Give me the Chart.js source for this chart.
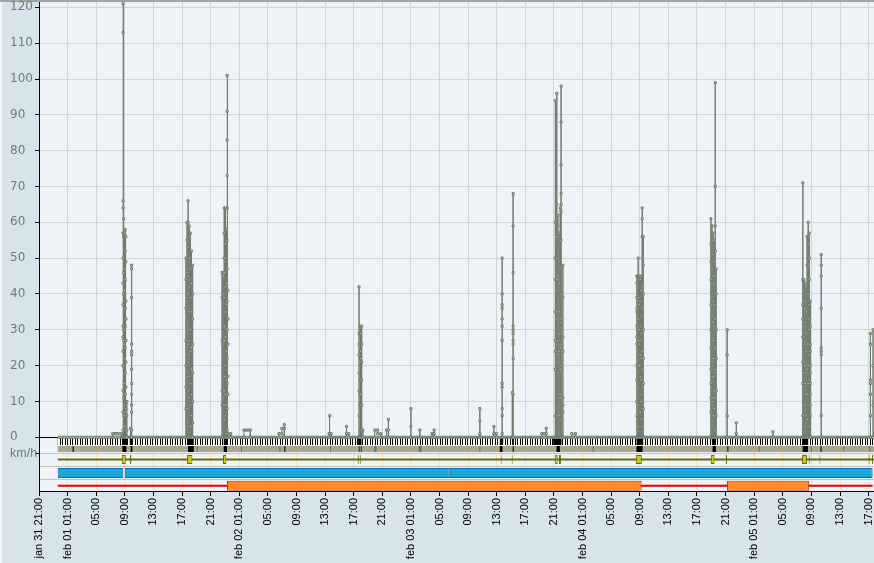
<!DOCTYPE html>
<html>
<head>
<meta charset="utf-8">
<title>Speed log</title>
<script src="https://cdn.jsdelivr.net/npm/chart.js@4.4.1/dist/chart.umd.min.js"></script>
<style>
  html, body { margin: 0; padding: 0; background: #d8e4ec; }
  #wrap { width: 874px; height: 563px; }
</style>
</head>
<body>
<div id="wrap"><canvas id="chart" width="874" height="563"></canvas></div>
<script>
// all x values are hours counted from jan 31 21:00
const tickLabels = [
    'jan 31 21:00',
    'feb 01 01:00', '05:00', '09:00', '13:00', '17:00', '21:00',
    'feb 02 01:00', '05:00', '09:00', '13:00', '17:00', '21:00',
    'feb 03 01:00', '05:00', '09:00', '13:00', '17:00', '21:00',
    'feb 04 01:00', '05:00', '09:00', '13:00', '17:00', '21:00',
    'feb 05 01:00', '05:00', '09:00', '13:00', '17:00'
];
const tickStep = 4;
const speedTicks = [0, 10, 20, 30, 40, 50, 60, 70, 80, 90, 100, 110, 120];

const trackStart = 2.62;
const trackEnd = 116.75;
const tripEnd = 116.56;

// each entry: one excursion of the speed trace, drawn at one moment
const spikeHours = [
    10.31, 10.62, 10.93, 11.25, 11.55,
    11.75, 11.85, 11.95, 12.05, 12.15, 12.28, 12.8, 12.95,
    20.55, 20.7, 20.85, 21.0, 21.15, 21.3, 21.48,
    25.6, 25.75, 25.9, 26.05, 26.18, 26.3, 26.42, 26.55, 26.8,
    28.65, 28.95, 29.25, 29.55,
    33.55, 33.95, 34.3,
    40.55, 40.65, 40.85,
    43.0, 43.3,
    44.75, 44.95, 45.12, 45.28,
    46.95, 47.35, 47.8,
    48.6, 48.85,
    52.0, 53.25, 54.95, 55.25,
    61.64, 63.6, 63.95,
    64.76, 66.18, 66.29,
    70.3, 70.65, 70.92,
    72.2, 72.4, 72.55, 72.72, 72.88, 73.0, 73.25,
    74.5, 75.0,
    83.6, 83.78, 83.92, 84.06, 84.2, 84.34, 84.48,
    93.95, 94.1, 94.25, 94.4, 94.55, 94.68,
    96.22, 97.5, 102.62,
    106.8, 106.95, 107.1, 107.25, 107.4, 107.55, 107.7, 107.83,
    109.37,
    116.25, 116.62
];
const spikeSpeeds = [
    [0, 1], [1], [1], [1], [1, 0],
    [0, 121, 113, 66, 64, 57, 50, 43, 37, 31, 28, 24, 20, 13, 7, 2, 0],
    [0, 61, 56, 46, 40, 30, 27, 20, 11, 6, 0],
    [0, 57, 56, 47, 41, 30, 26, 22, 15, 9, 3, 0],
    [0, 58, 52, 44, 36, 31, 25, 18, 12, 7, 0],
    [0, 56, 49, 38, 33, 27, 21, 14, 8, 2, 0],
    [0, 10, 6, 2, 0],
    [0, 2.5, 0],
    [0, 48, 47, 39, 26, 24, 23, 19, 15, 12, 9, 7, 2, 0],
    [0, 50, 44, 36, 27, 20, 14, 8, 0],
    [0, 60, 55, 46, 38, 31, 25, 17, 11, 4, 0],
    [0, 66, 60, 53, 45, 40, 35, 30, 26, 21, 13, 8, 3, 0],
    [0, 59, 56, 50, 42, 35, 27, 23, 17, 11, 6, 0],
    [0, 57, 47, 39, 30, 24, 15, 9, 3, 0],
    [0, 52, 43, 35, 25, 19, 12, 6, 0],
    [0, 48, 40, 33, 26, 18, 10, 4, 0],
    [0, 46, 39, 27, 13, 9, 0],
    [0, 45, 40, 31, 26, 17, 11, 5, 0],
    [0, 64, 57, 50, 46, 39, 31, 27, 17, 13, 9, 5, 0],
    [0, 64, 54, 49, 42, 35, 28, 20, 12, 6, 0],
    [0, 58, 50, 43, 37, 30, 24, 16, 9, 1, 0],
    [0, 101, 91, 83, 73, 64, 55, 47, 38, 30, 22, 15, 8, 2, 0],
    [0, 41, 33, 26, 17, 12, 0],
    [0, 1], [1, 0],
    [0, 2], [2], [2], [2, 0],
    [0, 1], [1, 2.5], [2.5, 3.5, 0],
    [0, 1], [1, 6, 1], [1, 0],
    [0, 3, 1], [1, 0],
    [0, 42, 29, 26, 23, 18, 13, 6, 0],
    [0, 31, 29, 24, 22, 16, 12, 9, 2, 0],
    [0, 31, 26, 21, 16, 9, 2, 0],
    [0, 2, 0],
    [0, 2], [2, 1], [1, 0],
    [0, 2], [2, 5, 0],
    [0, 8, 3, 0], [0, 2, 0], [0, 1], [1, 2, 0],
    [0, 8, 4.6, 1, 0], [0, 3, 1], [1, 0],
    [0, 50, 40, 37, 36, 33, 31, 27, 15, 14, 8, 6, 1, 0],
    [0, 12.5, 0],
    [0, 68, 59, 46, 31, 30, 29, 27, 26, 22, 12, 0],
    [0, 1], [1], [1, 2.5, 0],
    [0, 94, 60, 50, 44, 35, 27, 24, 19, 6, 0],
    [0, 96, 65, 61, 56, 50, 44, 35, 33, 26, 23, 21, 18, 6, 0],
    [0, 62, 59, 52, 45, 38, 31, 27, 23, 18, 11, 6, 0],
    [0, 57, 49, 43, 35, 29, 24, 19, 12, 6, 0],
    [0, 64, 55, 47, 40, 32, 25, 19, 11, 0],
    [0, 98, 88, 76, 68, 65, 63, 55, 47, 40, 33, 26, 20, 12, 5, 0],
    [0, 48, 39, 28, 24, 11, 9, 7, 0],
    [0, 1], [1, 0],
    [0, 45, 43, 39, 36, 35, 31, 28, 26, 20, 16, 10, 6, 0],
    [0, 50, 45, 39, 33, 30, 27, 23, 18, 14, 9, 3, 0],
    [0, 45, 44, 37, 30, 26, 20, 17, 12, 7, 0],
    [0, 44, 38, 31, 27, 23, 17, 12, 7, 0],
    [0, 45, 41, 34, 29, 22, 16, 10, 5, 0],
    [0, 64, 61, 56, 50, 42, 36, 30, 24, 19, 14, 8, 3, 0],
    [0, 56, 48, 40, 30, 22, 15, 8, 0],
    [0, 61, 54, 49, 44, 37, 30, 25, 19, 15, 11, 7, 0],
    [0, 59, 55, 51, 47, 40, 34, 27, 21, 17, 10, 6, 0],
    [0, 57, 51, 45, 38, 32, 27, 22, 17, 11, 6, 0],
    [0, 55, 49, 43, 37, 31, 25, 19, 13, 8, 2, 0],
    [0, 99, 70, 59, 52, 45, 40, 33, 25, 18, 11, 2, 0],
    [0, 47, 40, 30, 22, 13, 6, 0],
    [0, 30, 23, 6, 0],
    [0, 1, 4, 0],
    [0, 1.5, 0],
    [0, 71, 44, 37, 33, 28, 21, 15, 6, 0],
    [0, 44, 38, 32, 28, 22, 18, 12, 6, 0],
    [0, 43, 36, 31, 26, 20, 15, 9, 3, 0],
    [0, 42, 35, 29, 24, 18, 12, 6, 0],
    [0, 56, 48, 40, 33, 26, 19, 12, 5, 0],
    [0, 60, 56, 54, 48, 40, 33, 26, 20, 15, 9, 0],
    [0, 57, 50, 44, 37, 30, 23, 16, 9, 3, 0],
    [0, 38, 31, 26, 24, 20, 18, 15, 12, 9, 6, 0],
    [0, 51, 48, 45, 36, 25, 24, 23, 6, 0],
    [0, 29, 26, 16, 15, 12, 6, 0],
    [0, 30, 20, 9, 0]
];

// strip rows below the speed trace: [from, to] in hours
const denseRecords = [
    [11.66, 12.4], [12.69, 13.06], [20.76, 21.64], [25.83, 26.29], [44.62, 45.09],
    [64.43, 64.9], [66.21, 66.39], [71.89, 73.06], [83.55, 84.48], [94.08, 94.64],
    [106.77, 107.55]
];
const signalDark = [
    [4.7, 4.85], [11.66, 12.22], [12.82, 13.06], [20.84, 21.64], [25.83, 26.29],
    [34.3, 34.44], [44.72, 44.82], [45.0, 45.1], [64.43, 64.8], [66.23, 66.37],
    [72.36, 72.83], [83.55, 84.39], [94.18, 94.64], [96.25, 96.39], [106.77, 107.51],
    [109.27, 109.41]
];
const signalGray = [
    [22.05, 22.19], [28.25, 28.39], [33.6, 33.74], [40.7, 40.84], [46.9, 47.19],
    [53.1, 53.48], [61.57, 61.71], [77.42, 77.56], [100.63, 100.77], [107.92, 108.06],
    [112.45, 112.59], [116.08, 116.22]
];
const stopEvents = [
    [11.58, 12.13], [12.73, 12.92], [20.7, 21.45], [25.73, 26.2], [44.57, 44.71],
    [44.85, 44.99], [64.55, 64.69], [66.09, 66.23], [72.17, 72.52], [72.69, 72.97],
    [83.45, 84.29], [93.94, 94.46], [96.04, 96.18], [106.67, 107.37], [107.62, 107.76],
    [109.12, 109.26], [116.0, 116.14], [116.46, 116.6]
];
const tripSegments = [[trackStart, 11.8], [11.99, 57.44], [57.44, tripEnd]];
const parkedSegments = [[26.29, 84.26], [96.19, 107.69]];

// vertical position of each strip row, in axis units
const ROW_RECORDS = -1.17;
const ROW_SIGNAL = -3.27;
const ROW_STOPS = -6.2;
const ROW_TRIPS = -9.97;
const ROW_PARKED = -13.54;
const KMH_TICK = -4.43;
const rowSeparators = [-11.73, -8.1, KMH_TICK];

const speedPoints = [];
spikeHours.forEach((h, i) => {
    spikeSpeeds[i].forEach(v => speedPoints.push({ x: h, y: v }));
});

const rowBars = (spans, row) => spans.map(([a, b]) => ({ x: [a, b], y: row }));

const canvas = document.getElementById('chart');

// black/white record barcode
const stripe = document.createElement('canvas');
stripe.width = 5;
stripe.height = 1;
const sctx = stripe.getContext('2d');
sctx.fillStyle = '#ffffff';
sctx.fillRect(0, 0, 5, 1);
sctx.fillStyle = '#000000';
sctx.fillRect(0, 0, 1, 1);
sctx.fillRect(2, 0, 1, 1);
const recordPattern = canvas.getContext('2d').createPattern(stripe, 'repeat');

function barSet(data, thickness, fill, border, order) {
    return {
        type: 'bar',
        indexAxis: 'y',
        data: data,
        barThickness: thickness,
        backgroundColor: fill,
        borderColor: border || fill,
        borderWidth: border ? 1 : 0,
        borderSkipped: false,
        inflateAmount: 0,
        grouped: false,
        order: order
    };
}

let xGridGradient = null;
function xGridColor(ctx) {
    const chart = ctx.chart;
    const a = chart.chartArea;
    if (!a || !chart.scales.y) return '#d4d4d4';
    if (!xGridGradient) {
        const zero = chart.scales.y.getPixelForValue(0);
        const f = (zero - a.top) / (a.bottom - a.top);
        const g = chart.ctx.createLinearGradient(0, a.top, 0, a.bottom);
        g.addColorStop(0, '#d4d4d4');
        g.addColorStop(f, '#d4d4d4');
        g.addColorStop(f, '#f2dcc6');
        g.addColorStop(1, '#f2dcc6');
        xGridGradient = g;
    }
    return xGridGradient;
}

const panelPlugin = {
    id: 'panel',
    beforeDraw(chart) {
        const { ctx, chartArea: a, width, height } = chart;
        ctx.save();
        ctx.fillStyle = '#d8e4ec';
        ctx.fillRect(0, 0, width, height);
        ctx.fillStyle = '#eef3f8';
        ctx.fillRect(a.left, a.top, a.right - a.left, a.bottom - a.top);
        ctx.fillStyle = '#a3a3a3';
        ctx.fillRect(0, 0, width, 2);
        ctx.fillStyle = '#f4f7fa';
        ctx.fillRect(0, 2, 2, height - 2);
        ctx.restore();
    }
};

new Chart(canvas, {
    type: 'line',
    data: {
        datasets: [
            {
                data: speedPoints,
                borderColor: '#6c7a6c',
                borderWidth: 1,
                pointStyle: 'rect',
                pointRadius: 1.45,
                pointBorderWidth: 1,
                pointBorderColor: '#6c7a6c',
                pointBackgroundColor: '#d5d8b6',
                tension: 0,
                order: 0
            },
            {
                data: [{ x: trackStart, y: 0 }, { x: trackEnd, y: 0 }],
                borderColor: '#d2d6c4',
                borderWidth: 1,
                borderDash: [1, 2],
                pointRadius: 0,
                order: 1
            },
            {
                data: [{ x: trackStart, y: 0 }, { x: trackEnd, y: 0 }],
                borderColor: '#7c897c',
                borderWidth: 3,
                pointRadius: 0,
                order: 2
            },
            barSet(rowBars([[trackStart, trackEnd]], ROW_RECORDS), 7, recordPattern, null, 9),
            barSet(rowBars(denseRecords, ROW_RECORDS), 7, '#000000', null, 8),
            barSet(rowBars([[trackStart, trackEnd]], ROW_SIGNAL), 6, '#aaa78c', null, 9),
            barSet(rowBars(signalGray, ROW_SIGNAL), 6, '#6e6e6e', null, 8),
            barSet(rowBars(signalDark, ROW_SIGNAL), 6, '#000000', null, 8),
            barSet(rowBars([[trackStart, trackEnd]], ROW_STOPS), 2, '#6d6a00', null, 9),
            barSet(rowBars(stopEvents, ROW_STOPS), 9, '#cbc51c', '#6d6a00', 8),
            barSet(rowBars(tripSegments, ROW_TRIPS), 10, '#17a8e0', '#1b63a3', 8),
            barSet(rowBars([[trackStart, tripEnd]], ROW_PARKED), 2, '#e00000', null, 9),
            barSet(rowBars(parkedSegments, ROW_PARKED), 10, '#ff8a2a', '#cf2a00', 8)
        ]
    },
    options: {
        responsive: false,
        animation: false,
        devicePixelRatio: 1,
        events: [],
        layout: { autoPadding: false, padding: { left: 10, top: 2, right: 0, bottom: 0 } },
        plugins: { legend: { display: false }, tooltip: { enabled: false } },
        scales: {
            x: {
                type: 'linear',
                min: 0,
                max: trackEnd,
                offset: false,
                afterBuildTicks: s => { s.ticks = tickLabels.map((_, i) => ({ value: i * tickStep })); },
                afterFit: s => { s.height = 72; s.paddingLeft = 0; s.paddingRight = 0; },
                grid: { color: xGridColor, tickColor: '#000', tickLength: 5, offset: false },
                border: { color: '#000', width: 1 },
                ticks: {
                    autoSkip: false,
                    minRotation: 90,
                    maxRotation: 90,
                    padding: 2,
                    color: '#000',
                    font: { family: "'Liberation Sans', Arial, sans-serif", size: 11 },
                    callback: (v, i) => tickLabels[i]
                }
            },
            y: {
                type: 'linear',
                min: -15,
                max: 121.5,
                offset: false,
                afterBuildTicks: s => { s.ticks = rowSeparators.concat(speedTicks).map(v => ({ value: v })); },
                afterFit: s => { s.width = 29; s.paddingTop = 0; s.paddingBottom = 0; },
                grid: {
                    offset: false,
                    tickLength: 4,
                    color: c => c.tick.value === 0 ? '#000' : (c.tick.value < 0 ? '#c3c3b3' : '#d4d4d4'),
                    tickColor: c => (c.tick.value < 0 && c.tick.value !== KMH_TICK) ? 'rgba(0,0,0,0)' : '#000'
                },
                border: { color: '#000', width: 1 },
                ticks: {
                    autoSkip: false,
                    crossAlign: 'far',
                    padding: 0,
                    color: '#6f7d6f',
                    font: c => (c.tick && c.tick.value === KMH_TICK)
                        ? { family: "'Liberation Sans', Arial, sans-serif", size: 12.5 }
                        : { family: "'DejaVu Sans', sans-serif", size: 12 },
                    callback: v => v === KMH_TICK ? 'km/h' : (v >= 0 ? String(v) : '')
                }
            }
        }
    },
    plugins: [panelPlugin]
});
</script>
</body>
</html>
